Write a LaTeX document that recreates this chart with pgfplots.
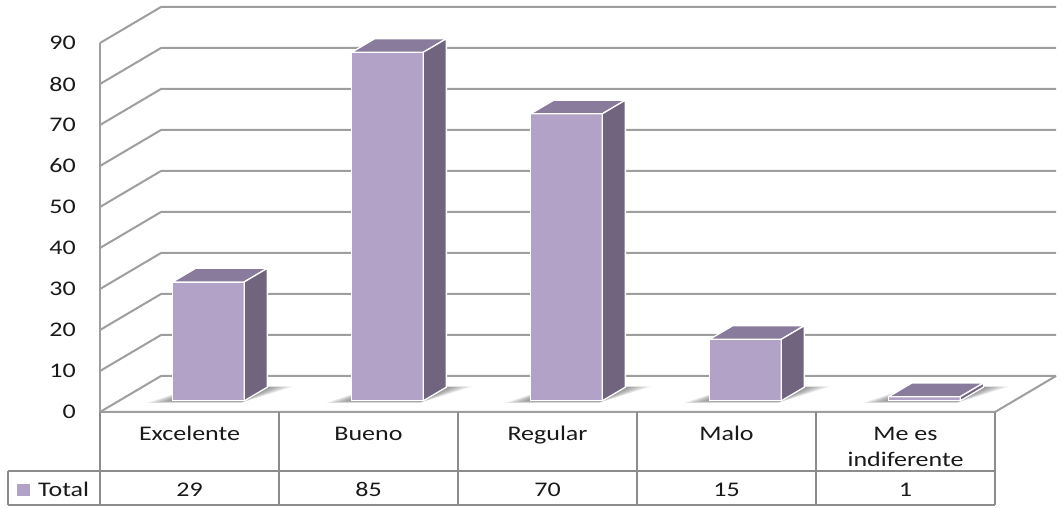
\documentclass[border=0pt]{standalone}
\usepackage{fontspec}
\setmainfont[FakeStretch=1.25]{Carlito}
\usepackage{pgfplots}
\pgfplotsset{compat=1.18}
\usepackage{pgfplotstable}
\usetikzlibrary{calc}

\definecolor{barfront}{RGB}{179,162,199}
\definecolor{bartop}{RGB}{137,123,156}
\definecolor{barside}{RGB}{112,100,127}
\definecolor{gridc}{RGB}{158,158,158}
\definecolor{tabc}{RGB}{140,140,140}
\definecolor{txt}{RGB}{25,25,25}

% Respuestas por categoría
\pgfplotstableread{
idx value
0 29
1 85
2 70
3 15
4 1
}\datatable

\begin{document}
\begin{tikzpicture}[font=\fontsize{20.8}{26}\selectfont\color{txt}]
\begin{axis}[
  x={(179pt,0pt)}, y={(61pt,36pt)}, z={(0pt,4.1pt)},
  xmin=0, xmax=5, ymin=0, ymax=1, zmin=0, zmax=90,
  axis lines=none, ticks=none, clip=false,
]
% side wall and back wall grid with value labels
\pgfplotsinvokeforeach{0,10,...,90}{
  \draw[gridc, line width=2pt, line join=round]
    (axis cs:0,0,#1) -- (axis cs:0,1,#1) -- (axis cs:5,1,#1);
  \node[anchor=east, inner sep=0pt] at ($(axis cs:0,0,#1)+(-24pt,0)$) {#1};
}
\draw[gridc, line width=2pt] (axis cs:0,0,0) -- (axis cs:0,0,90);
% floor
\draw[gridc, line width=2pt, line join=round]
  (axis cs:0,0,0) -- (axis cs:5,0,0) -- (axis cs:5,1,0);
\coordinate (O) at (axis cs:0,0,0);

% columns: soft floor shadow, then front, top and right faces
\pgfplotsforeachungrouped \i in {0,...,4}{
  \pgfplotstablegetelem{\i}{value}\of\datatable
  \let\v=\pgfplotsretval
  \pgfmathsetmacro\xa{\i+0.30}
  \pgfmathsetmacro\xb{\i+0.70}
  % shadow built from stacked translucent layers, widening outwards
  \pgfplotsforeachungrouped \k in {1,...,9}{
    \pgfmathsetmacro\fl{\xa-0.125*\k/9}
    \pgfmathsetmacro\br{\xb+0.14*\k/9}
    \pgfmathsetmacro\yf{0.31-0.06*\k/9}
    \pgfmathsetmacro\yb{0.69+0.02*\k/9}
    \edef\shade{%
      \noexpand\fill[black, opacity=0.055]
        (axis cs:\fl,\yf,0) -- (axis cs:\xb,\yf,0) -- (axis cs:\br,\yb,0) -- (axis cs:\xa,\yb,0) -- cycle;
    }%
    \shade
  }
  \edef\column{%
    \noexpand\addplot3[fill=barfront, draw=white, line width=1.3pt, line join=round, mark=none]
      coordinates {(\xa,0.31,0) (\xb,0.31,0) (\xb,0.31,\v) (\xa,0.31,\v) (\xa,0.31,0)};
    \noexpand\addplot3[fill=bartop, draw=white, line width=1.3pt, line join=round, mark=none]
      coordinates {(\xa,0.31,\v) (\xb,0.31,\v) (\xb,0.69,\v) (\xa,0.69,\v) (\xa,0.31,\v)};
    \noexpand\addplot3[fill=barside, draw=white, line width=1.3pt, line join=round, mark=none]
      coordinates {(\xb,0.31,0) (\xb,0.69,0) (\xb,0.69,\v) (\xb,0.31,\v) (\xb,0.31,0)};
  }%
  \column
}
\end{axis}

\pgfresetboundingbox
\begin{scope}[shift={($(O)+(-100pt,412pt)$)}, x=1pt, y=-1pt]
  \path (0,0) rectangle (1062,508);
  % data table
  \begin{scope}[tabc, line width=2pt]
    \draw (8,471) -- (995,471);
    \draw (8,504.5) -- (995,504.5);
    \draw (8,471) -- (8,504.5);
    \foreach \c in {100,279,458,637,816,995} \draw (\c,412) -- (\c,504.5);
  \end{scope}
  \node[anchor=base] at (189.5,441) {Excelente};
  \node[anchor=base] at (368.5,441) {Bueno};
  \node[anchor=base] at (547.5,441) {Regular};
  \node[anchor=base] at (726.5,441) {Malo};
  \node[anchor=base] at (905.5,441) {Me es};
  \node[anchor=base] at (905.5,467) {indiferente};
  \foreach \i in {0,...,4}{
    \pgfplotstablegetelem{\i}{value}\of\datatable
    \node[anchor=base] at ({189.5+179*\i},496) {\pgfplotsretval};
  }
  % legend key
  \fill[barfront] (17,484) rectangle (30,496);
  \node[anchor=base west, inner sep=0pt] at (38,496) {Total};
\end{scope}
\end{tikzpicture}
\end{document}
